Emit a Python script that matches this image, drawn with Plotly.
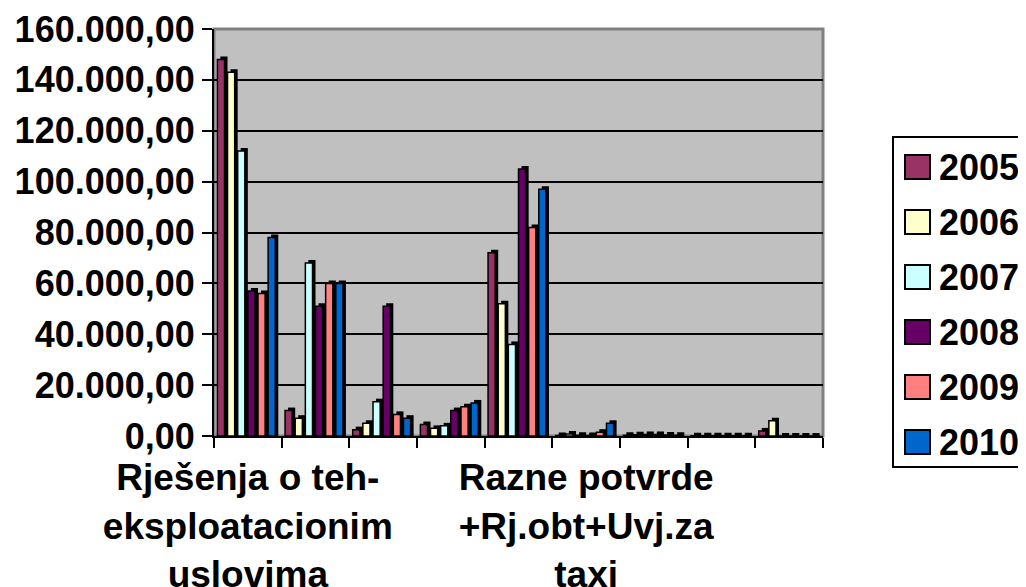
import plotly.graph_objects as go

# series (one list per year, one value per category)
years = ['2005', '2006', '2007', '2008', '2009', '2010']
colors = ['#993366', '#FFFFCC', '#CCFFFF', '#660066', '#FF8080', '#0066CC']

# category labels - Excel only printed every 5th one, the rest are unknown
categories = ['Rješenja o teh-<br>eksploatacionim<br>uslovima', '', '', '', '',
              'Razne potvrde<br>+Rj.obt+Uvj.za<br>taxi', '', '', '']
label_every = 5

v2005 = [148000, 10000, 2500, 4500, 72000, 200, 300, 100, 2000]
v2006 = [143000, 7000, 5000, 3000, 52000, 800, 500, 100, 6000]
v2007 = [112000, 68000, 13500, 4000, 36000, 300, 600, 100, 0]
v2008 = [57000, 51000, 51000, 10000, 105000, 200, 600, 100, 0]
v2009 = [56000, 60000, 8500, 11500, 82000, 1500, 400, 100, 0]
v2010 = [78000, 60000, 7000, 13000, 97000, 5000, 300, 100, 0]
series = [v2005, v2006, v2007, v2008, v2009, v2010]

y_ticks = [0, 20000, 40000, 60000, 80000, 100000, 120000, 140000, 160000]
y_max = 160000

font = 'Liberation Sans, Arial, sans-serif'
x_pos = list(range(len(categories)))

# page is 1026x587, the body has an 8px margin; figure runs to the bottom edge
W, H, PAD = 1026 - 16, 587 - 8, 8
# plot area in page pixels
L, R, T, B = 214, 823, 29, 436


def px_x(px):
    return (px - L) / (R - L)


def px_y(py):
    return (B - py) / (B - T)


# fake 3d depth of the excel columns: black block shifted right/up
slot = 0.9 / len(years)
depth_x = 3 / (R - L) * len(categories)
depth_y = 3 / (B - T) * y_max
face = slot - depth_x

fig = go.Figure()
for i, (year, vals, col) in enumerate(zip(years, series, colors)):
    off = -0.45 + i * slot
    fig.add_trace(go.Bar(x=x_pos, y=[v + depth_y for v in vals], width=face, offset=off + depth_x,
                         marker={'color': 'black', 'line': {'width': 0}},
                         hoverinfo='skip', showlegend=False))
    fig.add_trace(go.Bar(x=x_pos, y=vals, name=year, width=face, offset=off,
                         marker={'color': col, 'line': {'color': 'black', 'width': 1.5}},
                         showlegend=False))

shapes = [
    # dark grey rim of the back wall
    dict(type='rect', xref='paper', yref='paper', x0=0, x1=1, y0=0, y1=1,
         line={'color': '#808080', 'width': 3}, layer='below'),
    # legend box
    dict(type='rect', xref='paper', yref='paper',
         x0=px_x(893), x1=px_x(1060), y0=px_y(137), y1=px_y(467),
         line={'color': 'black', 'width': 2}, fillcolor='white'),
]
annotations = []
for i, (year, col) in enumerate(zip(years, colors)):
    cy = 167 + 55 * i
    shapes.append(dict(type='rect', xref='paper', yref='paper',
                       x0=px_x(905), x1=px_x(930), y0=px_y(cy + 12), y1=px_y(cy - 12),
                       line={'color': 'black', 'width': 2}, fillcolor=col))
    annotations.append(dict(text=year, xref='paper', yref='paper',
                            x=px_x(937), y=px_y(cy), xanchor='left', yanchor='middle',
                            showarrow=False, font={'size': 36, 'color': 'black', 'weight': 'bold'}))

tick_idx = [i for i in x_pos if i % label_every == 0]

fig.update_layout(
    width=W, height=H,
    margin={'l': L - PAD, 'r': W - (R - PAD), 't': T - PAD, 'b': H - (B - PAD)},
    paper_bgcolor='white', plot_bgcolor='#C0C0C0',
    font={'family': font, 'size': 36, 'color': 'black', 'weight': 'bold'},
    separators=',.',
    barmode='overlay',
    shapes=shapes, annotations=annotations,
    xaxis={'range': [-0.5, len(categories) - 0.5], 'automargin': False,
           'tickmode': 'array', 'tickvals': tick_idx,
           'ticktext': [categories[i] for i in tick_idx],
           'tickfont': {'size': 37}, 'ticklabelstandoff': 8,
           'ticks': '', 'showgrid': False, 'zeroline': False,
           'showline': True, 'linecolor': 'black', 'linewidth': 2,
           'minor': {'tickmode': 'array', 'tickvals': [i - 0.5 for i in range(len(categories) + 1)],
                     'ticks': 'outside', 'ticklen': 10, 'tickwidth': 2, 'tickcolor': 'black',
                     'showgrid': False}},
    yaxis={'range': [0, y_max], 'automargin': False, 'tickmode': 'array', 'tickvals': y_ticks,
           'tickformat': ',.2f', 'ticks': 'outside', 'ticklen': 10, 'tickwidth': 2,
           'tickcolor': 'black', 'showline': True, 'linecolor': 'black', 'linewidth': 2,
           'showgrid': True, 'gridcolor': 'black', 'gridwidth': 2,
           'zeroline': False},
)

fig.write_html("out.html")
